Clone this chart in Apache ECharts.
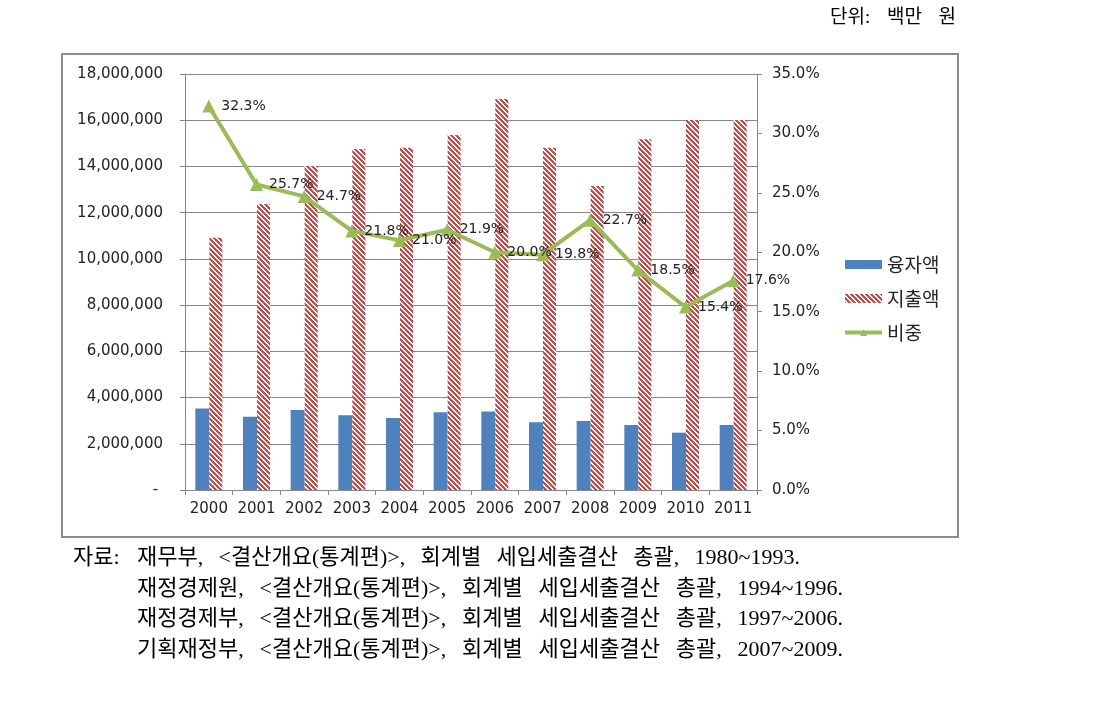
<!DOCTYPE html>
<html><head><meta charset="utf-8">
<script src="https://cdn.jsdelivr.net/npm/echarts@6/dist/echarts.min.js"></script>
<style>html,body{margin:0;padding:0;background:#fff}#c{width:1094px;height:713px}</style>
</head><body><div id="c"></div>
<script>
const years = ['2000','2001','2002','2003','2004','2005','2006','2007','2008','2009','2010','2011'];
const loanAmounts = [3530000, 3170000, 3460000, 3230000, 3120000, 3360000, 3400000, 2930000, 2990000, 2810000, 2480000, 2810000];
const spendAmounts = [10920000, 12380000, 14020000, 14760000, 14810000, 15360000, 16920000, 14810000, 13150000, 15180000, 16010000, 16010000];
const shares = [32.3, 25.7, 24.7, 21.8, 21.0, 21.9, 20.0, 19.8, 22.7, 18.5, 15.4, 17.6];
const seriesNames = ['융자액', '지출액', '비중'];
const unitLabel = '단위: 백만 원';
const sourcePrefix = '자료:';
const sourceLines = [
  '재무부, <결산개요(통계편)>, 회계별 세입세출결산 총괄, 1980~1993.',
  '재정경제원, <결산개요(통계편)>, 회계별 세입세출결산 총괄, 1994~1996.',
  '재정경제부, <결산개요(통계편)>, 회계별 세입세출결산 총괄, 1997~2006.',
  '기획재정부, <결산개요(통계편)>, 회계별 세입세출결산 총괄, 2007~2009.'
];

// hatch pattern
const n = 5;
const cv = document.createElement('canvas');
cv.width = n; cv.height = n;
const cx = cv.getContext('2d');
cx.fillStyle = '#ffffff'; cx.fillRect(0,0,n,n);
cx.fillStyle = '#C0504D';
for (let x = 0; x < n; x++) for (let y = 0; y < n; y++) {
  if (((x - y) % n + n) % n < 3) cx.fillRect(x, y, 1, 1);
}
const hatch = { image: cv, repeat: 'repeat' };

const serifFont = "'Liberation Serif','Noto Sans CJK KR',serif";
const axisFont = "'DejaVu Sans','Noto Sans CJK KR',sans-serif";

// justify words of a line between x0 and x1
const mc = document.createElement('canvas').getContext('2d');
function justified(text, x0, x1, y, font) {
  mc.font = font;
  const words = text.split(' ');
  const widths = words.map(w => mc.measureText(w).width);
  const total = widths.reduce((a, b) => a + b, 0);
  const gap = words.length > 1 ? (x1 - x0 - total) / (words.length - 1) : 0;
  const out = [];
  let x = x0;
  words.forEach((w, i) => {
    out.push({ type: 'text', x: x, y: y, silent: true,
      style: {text: w, font: font, fill: '#000', textVerticalAlign: 'middle'} });
    x += widths[i] + gap;
  });
  return out;
}

const chart = echarts.init(document.getElementById('c'), null, {renderer: 'canvas'});
const footFont = '22px ' + serifFont;
let graphics = [
  { type: 'rect', shape: {x: 62, y: 54, width: 896, height: 483}, style: {fill: 'none', stroke: '#8c8c8c', lineWidth: 2}, silent: true }
];
graphics = graphics.concat(justified(unitLabel, 830, 956, 18, '19px ' + serifFont));
graphics.push({ type: 'text', x: 73, y: 558, silent: true, style: {text: sourcePrefix, font: footFont, fill: '#000', textVerticalAlign: 'middle'} });
const lineY = [558, 589, 619, 650];
const lineEnd = [800, 843, 843, 843];
sourceLines.forEach((t, i) => {
  graphics = graphics.concat(justified(t, 137, lineEnd[i], lineY[i], footFont));
});

chart.setOption({
  animation: false,
  backgroundColor: '#fff',
  textStyle: {fontFamily: axisFont},
  grid: {left: 185, right: 337, top: 74, bottom: 223, containLabel: false},
  legend: {
    orient: 'vertical', left: 843, top: 255, padding: 0, itemWidth: 37, itemHeight: 9, itemGap: 15,
    textStyle: {fontSize: 19, color: '#222', fontFamily: "'Noto Sans CJK KR',sans-serif"},
    data: [
      {name: seriesNames[0], icon: 'rect'},
      {name: seriesNames[1], icon: 'rect'},
      {name: seriesNames[2], lineStyle: {width: 4}}
    ]
  },
  xAxis: {
    type: 'category', data: years, boundaryGap: true,
    axisLine: {lineStyle: {color: '#868686', width: 1}},
    axisTick: {show: true, alignWithLabel: false, interval: 0, length: 5, lineStyle: {color: '#868686'}},
    axisLabel: {fontSize: 15, color: '#222', margin: 12, interval: 0}
  },
  yAxis: [
    { type: 'value', min: 0, max: 18000000, interval: 2000000,
      axisLine: {show: true, lineStyle: {color: '#868686'}},
      axisTick: {show: true, length: 5, lineStyle: {color: '#868686'}},
      splitLine: {lineStyle: {color: '#868686', width: 1}},
      axisLabel: {fontSize: 15, color: '#222', margin: 22, formatter: v => v === 0 ? '- ' : v.toLocaleString('en-US')} },
    { type: 'value', min: 0, max: 35, interval: 5, position: 'right',
      axisLine: {show: true, lineStyle: {color: '#868686'}},
      axisTick: {show: true, length: 5, lineStyle: {color: '#868686'}},
      splitLine: {show: false},
      axisLabel: {fontSize: 15, color: '#222', margin: 15, formatter: v => v.toFixed(1) + '%'} }
  ],
  series: [
    { name: seriesNames[0], type: 'bar', data: loanAmounts, barWidth: 14, barGap: '0%',
      itemStyle: {color: '#4F81BD'} },
    { name: seriesNames[1], type: 'bar', data: spendAmounts, barWidth: 13,
      itemStyle: {color: hatch} },
    { name: seriesNames[2], type: 'line', yAxisIndex: 1, data: shares,
      symbol: 'triangle', symbolSize: 13,
      lineStyle: {color: '#9BBB59', width: 4}, itemStyle: {color: '#9BBB59'},
      label: {show: true, position: 'right', distance: 6, fontSize: 14, color: '#222', formatter: p => p.value.toFixed(1) + '%'},
      z: 5 }
  ],
  graphic: graphics
});
</script></body></html>
